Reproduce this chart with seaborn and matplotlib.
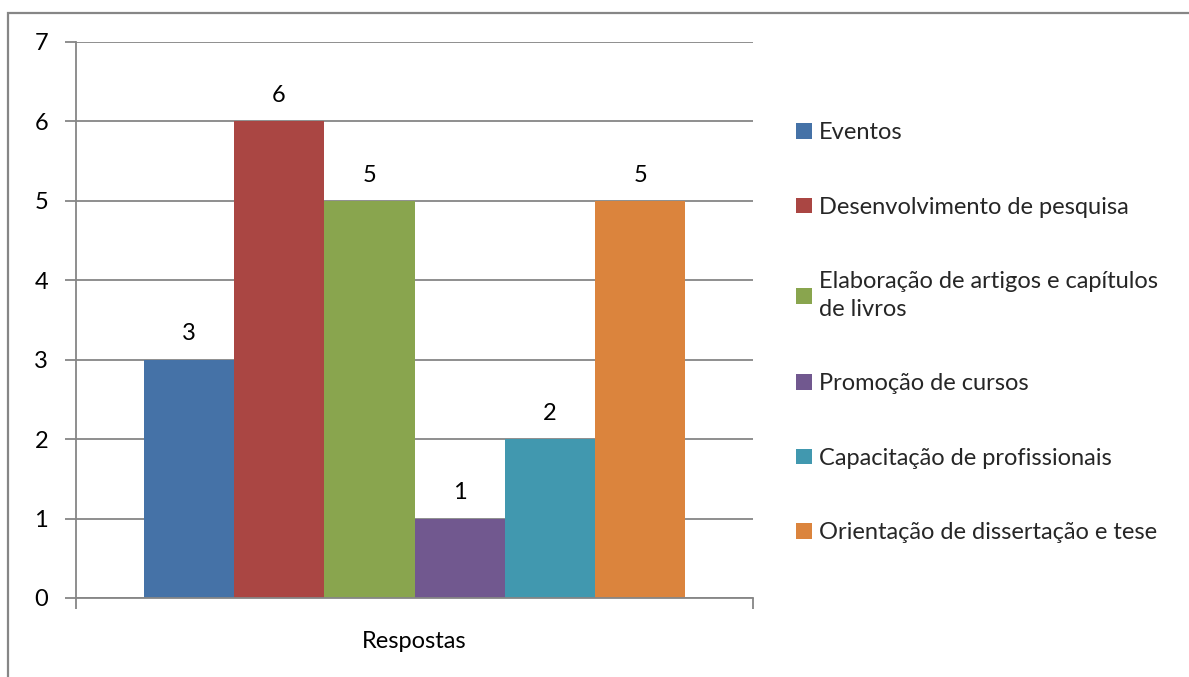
import pandas as pd
import matplotlib.pyplot as plt
import seaborn as sns
from matplotlib.patches import Rectangle

# dados
categoria = ["Respostas"]
series = [
    "Eventos",
    "Desenvolvimento de pesquisa",
    "Elaboração de artigos e capítulos\nde livros",
    "Promoção de cursos",
    "Capacitação de profissionais",
    "Orientação de dissertação e tese",
]
valores = [3, 6, 5, 1, 2, 5]
cores = ["#4572A7", "#AA4643", "#89A54E", "#71588F", "#4198AF", "#DB843D"]

df = pd.DataFrame({
    "grupo": categoria * len(series),
    "serie": series,
    "valor": valores,
})

sns.set_theme(style="white")
plt.rcParams["font.family"] = ["Lato", "DejaVu Sans"]

fig = plt.figure(figsize=(11.89, 6.77), dpi=100)
ax = fig.add_axes([76 / 1189, 79 / 677, 677 / 1189, 556 / 677])

sns.barplot(data=df, x="grupo", y="valor", hue="serie", palette=cores,
            width=0.8, saturation=1, linewidth=0, ax=ax, legend=True)

ax.set_xlim(-0.5, 0.5)
ax.set_ylim(0, 7)
ax.set_yticks(range(0, 8))
ax.yaxis.grid(True, color="#868686", linewidth=1.3)
ax.set_axisbelow(True)
for s in ["top", "right"]:
    ax.spines[s].set_visible(False)
for s in ["left", "bottom"]:
    ax.spines[s].set_color("#868686")
    ax.spines[s].set_linewidth(1.3)

ax.tick_params(axis="y", left=True, length=8, width=1.3, color="#868686",
               labelsize=17, pad=12, labelcolor="black")
ax.set_xticks([0])
ax.set_xticklabels(categoria)
ax.set_xticks([-0.5, 0.5], minor=True)
ax.tick_params(axis="x", which="major", length=0, labelsize=17, pad=24,
               labelcolor="black")
ax.tick_params(axis="x", which="minor", bottom=True, length=8, width=1.3,
               color="#868686")
ax.set_xlabel("")
ax.set_ylabel("")

for c in ax.containers:
    ax.bar_label(c, padding=11, fontsize=17, color="black")

leg = ax.legend(loc="upper left", bbox_to_anchor=(787 / 1189, 1 - 113 / 677),
                bbox_transform=fig.transFigure, frameon=False, fontsize=17,
                handlelength=0.64, handleheight=0.64, handletextpad=0.3,
                labelspacing=2.26, borderaxespad=0)
for t in leg.get_texts():
    t.set_linespacing(1.4)

# moldura externa
fig.patches.append(Rectangle((8 / 1189, -0.1), 1.2, (677 - 13) / 677 + 0.1,
                             transform=fig.transFigure, fill=False,
                             edgecolor="#868686", linewidth=1.6))

fig.savefig("out.png", dpi=100)
